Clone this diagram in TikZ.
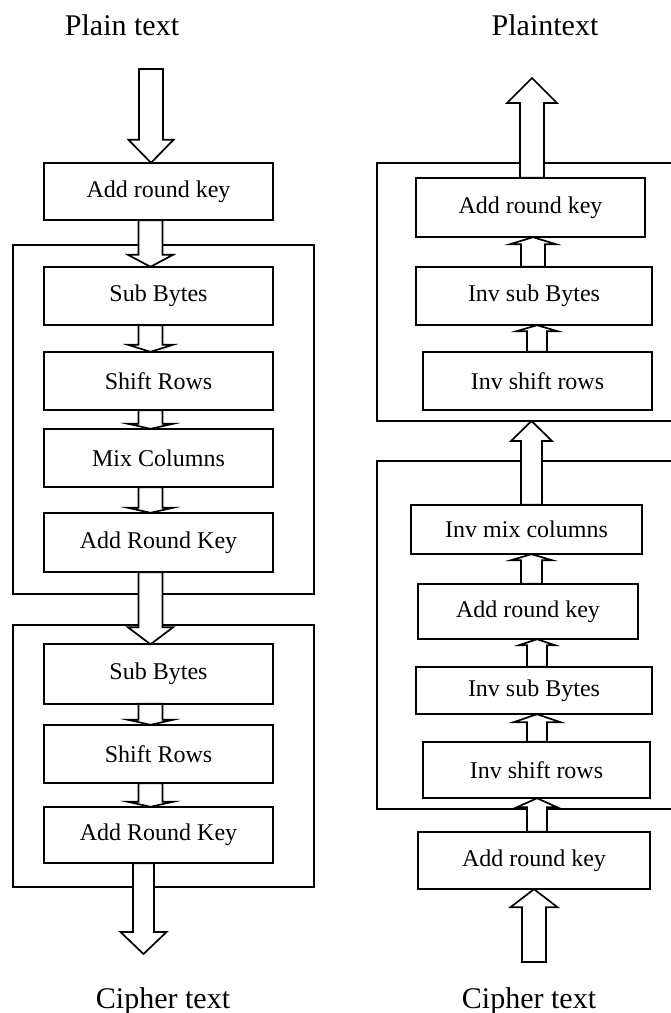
\documentclass[tikz,border=0pt]{standalone}
\usepackage{fontspec}
\setmainfont{Liberation Serif}
\usetikzlibrary{calc}

% from, to, x shift, half shaft, half head, head length (negative: pointing up)
\newcommand{\blockarrow}[6]{%
  \draw[arrowbody] let \p1=($(#1)+(#3pt,0)$), \p2=(#2) in
    ({\x1-#4pt},\y1) -- ({\x1-#4pt},{\y2+(#6pt)}) -- ({\x1-#5pt},{\y2+(#6pt)}) -- (\x1,\y2)
    -- ({\x1+#5pt},{\y2+(#6pt)}) -- ({\x1+#4pt},{\y2+(#6pt)}) -- ({\x1+#4pt},\y1) -- cycle;}

\begin{document}
\begin{tikzpicture}[x=1pt,y=1pt,
  box/.style={fill=white,inner sep=0pt,font=\fontsize{24}{28}\selectfont},
  lbl/.style={font=\fontsize{30}{34}\selectfont,anchor=base,inner sep=0pt},
  frame/.style={line width=1.7pt},
  arrowbody/.style={line width=1.7pt,fill=white,line join=miter}]
\useasboundingbox (0,0) rectangle (670,-1013);

% encryption
\draw[frame] (13,-245) rectangle (314,-594);
\draw[frame] (13,-625) rectangle (314,-887);
\node[lbl] (pt1) at (122,-35) {Plain text};
\coordinate (in1) at (151,-69);
\node[box,minimum width=229,minimum height=57] (ark0) at (158.5,-191.5) {Add round key};
\node[box,minimum width=229,minimum height=58] (sb1) at (158.5,-296) {Sub Bytes};
\node[box,minimum width=229,minimum height=58] (sr1) at (158.5,-381) {Shift Rows};
\node[box,minimum width=229,minimum height=58] (mc1) at (158.5,-458) {Mix Columns};
\node[box,minimum width=229,minimum height=59] (ark1) at (158.5,-542.5) {Add Round Key};
\node[box,minimum width=229,minimum height=59] (sb2) at (158.5,-674) {Sub Bytes};
\node[box,minimum width=229,minimum height=58] (sr2) at (158.5,-754) {Shift Rows};
\node[box,minimum width=229,minimum height=56] (ark2) at (158.5,-835) {Add Round Key};
\coordinate (out1) at (143.5,-954);
\node[lbl] (ct1) at (163,-1008) {Cipher text};

\blockarrow{in1}{ark0.north}{0}{12}{22.5}{23}
\blockarrow{ark0.south}{sb1.north}{-8}{12}{22.5}{12}
\blockarrow{sb1.south}{sr1.north}{-8}{12}{22.5}{7}
\blockarrow{sr1.south}{mc1.north}{-8}{12}{22.5}{5}
\blockarrow{mc1.south}{ark1.north}{-8}{12}{22.5}{5}
\blockarrow{ark1.south}{sb2.north}{-8}{12}{22.5}{17}
\blockarrow{sb2.south}{sr2.north}{-8}{12}{22.5}{5}
\blockarrow{sr2.south}{ark2.north}{-8}{12}{22.5}{5}
\blockarrow{ark2.south}{out1}{-15}{10.5}{23}{22}

% decryption
\draw[frame] (671,-163) -| (377,-421) -- (671,-421);
\draw[frame] (671,-461) -| (377,-809) -- (671,-809);
\node[lbl] (pt2) at (545,-35) {Plaintext};
\coordinate (out2) at (532,-78);
\node[box,minimum width=229,minimum height=59] (rark0) at (530.5,-207.5) {Add round key};
\node[box,minimum width=236,minimum height=58] (risb0) at (534,-296) {Inv sub Bytes};
\node[box,minimum width=229,minimum height=58] (risr0) at (537.5,-381) {Inv shift rows};
\coordinate (f1b) at (531.5,-421);
\node[box,minimum width=231,minimum height=49] (rimc) at (526.5,-529.5) {Inv mix columns};
\node[box,minimum width=220,minimum height=55] (rark1) at (528,-611.5) {Add round key};
\node[box,minimum width=236,minimum height=47] (risb1) at (534,-690.5) {Inv sub Bytes};
\node[box,minimum width=227,minimum height=56] (risr1) at (536.5,-770) {Inv shift rows};
\node[box,minimum width=232,minimum height=57] (rark2) at (534,-860.5) {Add round key};
\coordinate (in2) at (534,-962);
\node[lbl] (ct2) at (529,-1008) {Cipher text};

\blockarrow{rark0.north}{out2}{1.5}{12}{25}{-25}
\blockarrow{risb0.north}{rark0.south}{-1}{12}{23}{-7}
\blockarrow{risr0.north}{risb0.south}{-0.5}{10}{20.5}{-6}
\blockarrow{rimc.north}{f1b}{5}{10.5}{20.5}{-20}
\blockarrow{rark1.north}{rimc.south}{3.5}{10.5}{20.5}{-6}
\blockarrow{risb1.north}{rark1.south}{3}{10}{18}{-6}
\blockarrow{risr1.north}{risb1.south}{0.5}{10}{23.5}{-8}
\blockarrow{rark2.north}{risr1.south}{3}{10}{20}{-9}
\blockarrow{in2}{rark2.south}{0}{12}{23.5}{-18}

% box outlines on top of the arrow heads
\foreach \b in {ark0,sb1,sr1,mc1,ark1,sb2,sr2,ark2,rark0,risb0,risr0,rimc,rark1,risb1,risr1,rark2}
  \draw[line width=1.7pt] (\b.south west) rectangle (\b.north east);
\end{tikzpicture}
\end{document}
